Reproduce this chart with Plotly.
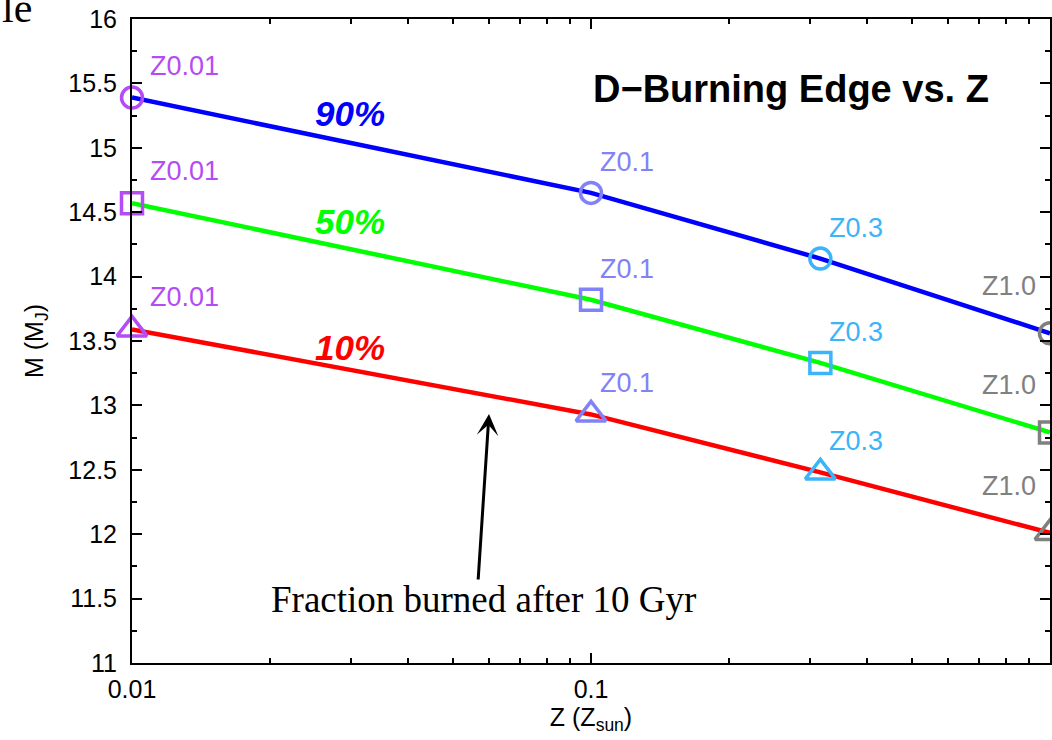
import numpy as np
import plotly.graph_objects as go

# ---- data ----
Z = [0.01, 0.1, 0.316, 1.0]
Z_labels = ["Z0.01", "Z0.1", "Z0.3", "Z1.0"]
Z_colors = ["#b44cf5", "#8282f8", "#3cb4fa", "#808080"]

frac_names = ["90%", "50%", "10%"]
frac_colors = ["#0000ff", "#00ff00", "#ff0000"]
frac_symbols = ["circle-open", "square-open", "triangle-up-open"]
M_90 = [15.39, 14.65, 14.14, 13.56]
M_50 = [14.57, 13.82, 13.33, 12.79]
M_10 = [13.59, 12.93, 12.48, 12.01]
series = [M_90, M_50, M_10]

y_tickvals = [11, 11.5, 12, 12.5, 13, 13.5, 14, 14.5, 15, 15.5, 16]
y_ticktext = ["11", "11.5", "12", "12.5", "13", "13.5", "14", "14.5", "15", "15.5", "16"]
x_tickvals = [0.01, 0.1, 1]
x_ticktext = ["0.01", "0.1", "1"]

SANS = "Liberation Sans, Arial, Helvetica, sans-serif"
SERIF = "Liberation Serif, Times New Roman, serif"

# plot area in pixels
W, H = 1052, 740
L, R, T, B = 132, 2, 19, 77
PW, PH = W - L - R, H - T - B


def px(x):
    return (x - L) / PW


def py(y):
    return (H - B - y) / PH


fig = go.Figure()

# lines
for vals, col in zip(series, frac_colors):
    fig.add_trace(go.Scatter(x=Z, y=vals, mode="lines",
                             line=dict(color=col, width=4.5),
                             hoverinfo="skip", cliponaxis=False))

# markers
for vals, sym in zip(series, frac_symbols):
    size = 26 if sym.startswith("triangle") else 21
    fig.add_trace(go.Scatter(x=Z, y=vals, mode="markers",
                             marker=dict(symbol=sym, size=size, color=Z_colors,
                                         line=dict(color=Z_colors, width=3.5)),
                             cliponaxis=False))

annotations = []
# Z labels
for vals in series:
    for z, v, lab, col in zip(Z, vals, Z_labels, Z_colors):
        if lab == "Z1.0":
            xa, xs, ys = "right", -12, 47
        elif lab == "Z0.01":
            xa, xs, ys = "left", 16, 32
        else:
            xa, xs, ys = "left", 7, 31
        annotations.append(dict(x=np.log10(z), y=v, xref="x", yref="y",
                                text=lab, showarrow=False, xanchor=xa, yanchor="middle",
                                xshift=xs, yshift=ys,
                                font=dict(family=SANS, size=27, color=col)))

# percentage labels
for name, col, ypix in zip(frac_names, frac_colors, [113, 221, 347]):
    annotations.append(dict(x=px(350), y=py(ypix), xref="paper", yref="paper",
                            text="<b><i>" + name + "</i></b>", showarrow=False,
                            xanchor="center", yanchor="middle",
                            font=dict(family=SANS, size=35, color=col)))

# title
annotations.append(dict(x=px(791), y=py(89), xref="paper", yref="paper",
                        text="<b>D\u2212Burning Edge vs. Z</b>", showarrow=False,
                        xanchor="center", yanchor="middle",
                        font=dict(family=SANS, size=38, color="black")))

# fraction burned note + arrow
annotations.append(dict(x=px(483), y=py(599), xref="paper", yref="paper",
                        text="Fraction burned after 10 Gyr", showarrow=False,
                        xanchor="center", yanchor="middle",
                        font=dict(family=SERIF, size=37, color="black")))
annotations.append(dict(x=px(489), y=py(414), xref="paper", yref="paper",
                        text=" ", showarrow=True, ax=-11, ay=168,
                        font=dict(size=2),
                        arrowhead=3, arrowsize=1.2, arrowwidth=3, arrowcolor="black"))

# cropped caption fragment at top-left
annotations.append(dict(x=px(0), y=py(8), xref="paper", yref="paper",
                        text="le", showarrow=False, xanchor="left", yanchor="middle",
                        font=dict(family=SERIF, size=42, color="black")))

minor_x = [m * d for d in (0.01, 0.1) for m in range(2, 10)]

fig.update_layout(
    width=W, height=H,
    margin=dict(l=L, r=R, t=T, b=B, autoexpand=False),
    paper_bgcolor="white", plot_bgcolor="white",
    showlegend=False,
    annotations=annotations,
    font=dict(family=SANS, size=25, color="black"),
    xaxis=dict(type="log", range=[-2, 0], automargin=False,
               tickvals=x_tickvals, ticktext=x_ticktext,
               ticks="inside", ticklen=10, tickwidth=2, tickcolor="black",
               showline=True, linecolor="black", linewidth=2, mirror="ticks",
               showgrid=False, zeroline=False,
               tickfont=dict(family=SANS, size=25, color="black"),
               ticklabelstandoff=3,
               minor=dict(tickvals=minor_x, ticks="inside", ticklen=5,
                          tickwidth=2, tickcolor="black", showgrid=False),
               title=dict(text="Z (Z<sub>sun</sub>)", standoff=0,
                          font=dict(family=SANS, size=25, color="black"))),
    yaxis=dict(range=[11, 16], automargin=False,
               tickvals=y_tickvals, ticktext=y_ticktext,
               ticks="inside", ticklen=10, tickwidth=2, tickcolor="black",
               showline=True, linecolor="black", linewidth=2, mirror="ticks",
               showgrid=False, zeroline=False,
               tickfont=dict(family=SANS, size=25, color="black"),
               ticklabelstandoff=8,
               minor=dict(dtick=0.25, ticks="inside", ticklen=5,
                          tickwidth=2, tickcolor="black", showgrid=False),
               title=dict(text="M (M<sub>J</sub>)", standoff=18,
                          font=dict(family=SANS, size=25, color="black"))),
)

fig.write_html("out.html",
               config={"displayModeBar": False},
               post_script="document.body.style.margin='0';"
                           "document.body.style.padding='0';"
                           "document.documentElement.style.overflow='hidden';")
